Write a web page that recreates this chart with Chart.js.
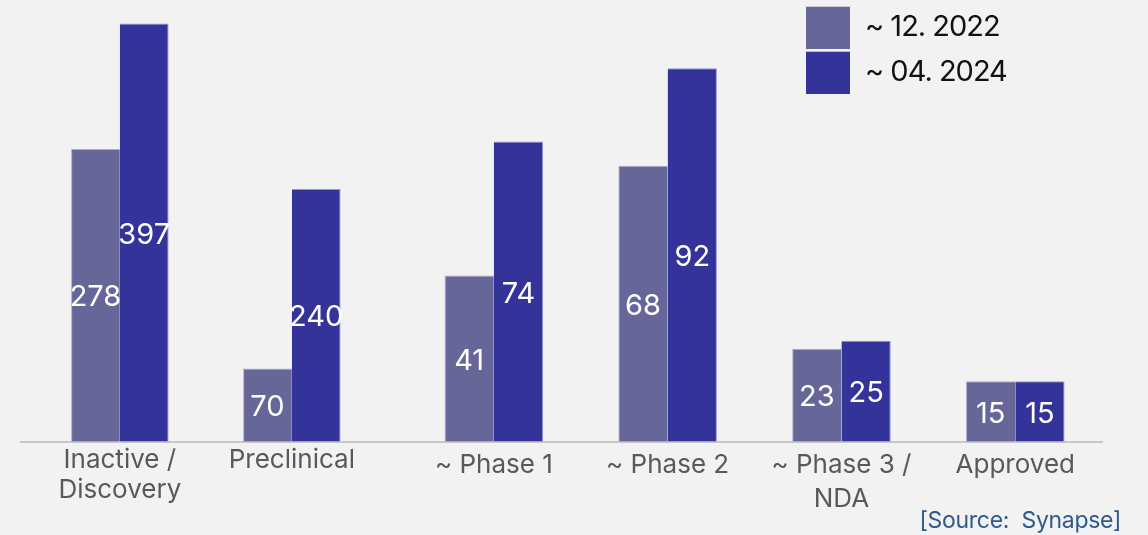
<!DOCTYPE html>
<html>
<head>
<meta charset="utf-8">
<script src="https://cdn.jsdelivr.net/npm/chart.js@4.4.1/dist/chart.umd.min.js"></script>
<style>
  html, body { margin: 0; padding: 0; background: #f2f2f2; }
  #wrap { width: 1148px; height: 535px; position: relative; overflow: hidden; }
  canvas { display: block; position: absolute; top: 0; left: 0; }
</style>
</head>
<body>
<div id="wrap">
  <canvas id="cL" width="1148" height="535"></canvas>
  <canvas id="cR" width="1148" height="535"></canvas>
</div>
<script>
// ---- data ----
const categories = [['Inactive /', 'Discovery'], 'Preclinical', '~ Phase 1', '~ Phase 2', ['~ Phase 3 /', 'NDA'], 'Approved'];
const seriesNames = ['~ 12. 2022', '~ 04. 2024'];
const values2022 = [278, 70, 41, 68, 23, 15];
const values2024 = [397, 240, 74, 92, 25, 15];
const leftPanelCount = 2;   // the first categories are drawn on their own (wider-range) value scale
const sourceText = '[Source:  Synapse]';

// ---- styles ----
const colors = ['#666699', '#333399'];
const edgeColors = ['rgba(165,165,205,0.9)', 'rgba(140,140,210,0.9)'];
const FONT = 'Inter, "Noto Sans", sans-serif';

Chart.defaults.font.family = FONT;

function makeDataset(si, values) {
  return {
    label: seriesNames[si],
    data: values,
    xAxisID: 'x',
    yAxisID: 'y',
    backgroundColor: colors[si],
    borderColor: edgeColors[si],
    borderWidth: si === 0 ? {top: 1, left: 1, right: 0, bottom: 0} : {top: 1, left: 0, right: 1, bottom: 0},
    borderSkipped: false,
    barPercentage: 1,
    categoryPercentage: 0.567
  };
}

const axisBorder = { display: true, color: 'rgba(188,188,188,0.8)', width: 2, z: 1 };
const noOverflow = (scale) => { scale.paddingLeft = 0; scale.paddingRight = 0; };

function tickFont(lineHeight) {
  return { family: FONT, size: 26, lineHeight: lineHeight + 'px' };
}

// empty axis segment: only continues the baseline (same height as the labelled axis)
function spacerAxis(weight, padding, lineHeight) {
  return {
    type: 'category', labels: [['', '']], position: 'bottom', stack: 'base', stackWeight: weight,
    grid: { display: false, drawTicks: false },
    border: axisBorder,
    ticks: { display: true, padding: padding, maxRotation: 0, minRotation: 0, font: tickFont(lineHeight) },
    afterFit: noOverflow
  };
}

function catAxis(labels, weight, padding, lineHeight) {
  return {
    type: 'category', labels: labels, position: 'bottom', stack: 'base', stackWeight: weight,
    offset: true,
    grid: { display: false, drawTicks: false },
    border: axisBorder,
    ticks: {
      color: '#595959', padding: padding, maxRotation: 0, minRotation: 0, autoSkip: false,
      font: tickFont(lineHeight)
    },
    afterFit: noOverflow
  };
}

const valueLabels = {
  id: 'valueLabels',
  afterDatasetsDraw(chart) {
    const ctx = chart.ctx;
    ctx.save();
    ctx.font = '29px ' + FONT;
    ctx.fillStyle = '#ffffff';
    ctx.textAlign = 'center';
    ctx.textBaseline = 'middle';
    chart.data.datasets.forEach((ds, i) => {
      const meta = chart.getDatasetMeta(i);
      meta.data.forEach((bar, j) => {
        const v = ds.data[j];
        if (v === null || v === undefined) return;
        ctx.fillText(String(v), bar.x, (bar.y + bar.base) / 2 + 2);
      });
    });
    ctx.restore();
  }
};

const boxLegend = {
  id: 'boxLegend',
  afterDraw(chart) {
    const ctx = chart.ctx;
    ctx.save();
    ctx.font = '29px ' + FONT;
    ctx.letterSpacing = '-1px';
    ctx.textAlign = 'left';
    ctx.textBaseline = 'middle';
    chart.data.datasets.forEach((ds, k) => {
      const top = 6.7 + k * 45;
      ctx.fillStyle = ds.backgroundColor;
      ctx.fillRect(806, top, 44, 42.3);
      ctx.fillStyle = '#111111';
      ctx.fillText(ds.label, 865, top + 21);
    });
    ctx.restore();
  }
};

const sourceNote = {
  id: 'sourceNote',
  afterDraw(chart) {
    const ctx = chart.ctx;
    ctx.save();
    ctx.font = '23px ' + FONT;
    ctx.letterSpacing = '-0.3px';
    ctx.fillStyle = '#2f5a8c';
    ctx.textAlign = 'right';
    ctx.textBaseline = 'alphabetic';
    ctx.fillText(sourceText, 1121, 528.3);
    ctx.restore();
  }
};

function baseOptions(padding, xScales, yMax) {
  return {
    responsive: false,
    animation: false,
    devicePixelRatio: 1,
    layout: { padding: padding },
    plugins: { legend: { display: false }, title: { display: false }, tooltip: { enabled: false } },
    scales: Object.assign({}, xScales, {
      y: { type: 'linear', display: false, min: 0, max: yMax, position: 'left' }
    })
  };
}

// left panel: first categories (wider value range)
new Chart(document.getElementById('cL'), {
  type: 'bar',
  data: { datasets: [
    makeDataset(0, values2022.slice(0, leftPanelCount)),
    makeDataset(1, values2024.slice(0, leftPanelCount))
  ] },
  options: baseOptions(
    { left: 21, right: 756, top: 20.3, bottom: 27.3 },
    {
      xPad: spacerAxis(12.85, 2.7, 30),
      x: catAxis(categories.slice(0, leftPanelCount), 344, 2.7, 30),
      xGap: spacerAxis(14.15, 2.7, 30)
    },
    400
  ),
  plugins: [valueLabels]
});

// right panel: remaining categories, legend and source note
new Chart(document.getElementById('cR'), {
  type: 'bar',
  data: { datasets: [
    makeDataset(0, values2022.slice(leftPanelCount)),
    makeDataset(1, values2024.slice(leftPanelCount))
  ] },
  options: baseOptions(
    { left: 392, right: 45.8, top: 20.3, bottom: 12.8 },
    {
      xGap: spacerAxis(14.9, 5.45, 34.5),
      x: catAxis(categories.slice(leftPanelCount), 695.3, 5.45, 34.5)
    },
    103.8
  ),
  plugins: [valueLabels, boxLegend, sourceNote]
});
</script>
</body>
</html>
